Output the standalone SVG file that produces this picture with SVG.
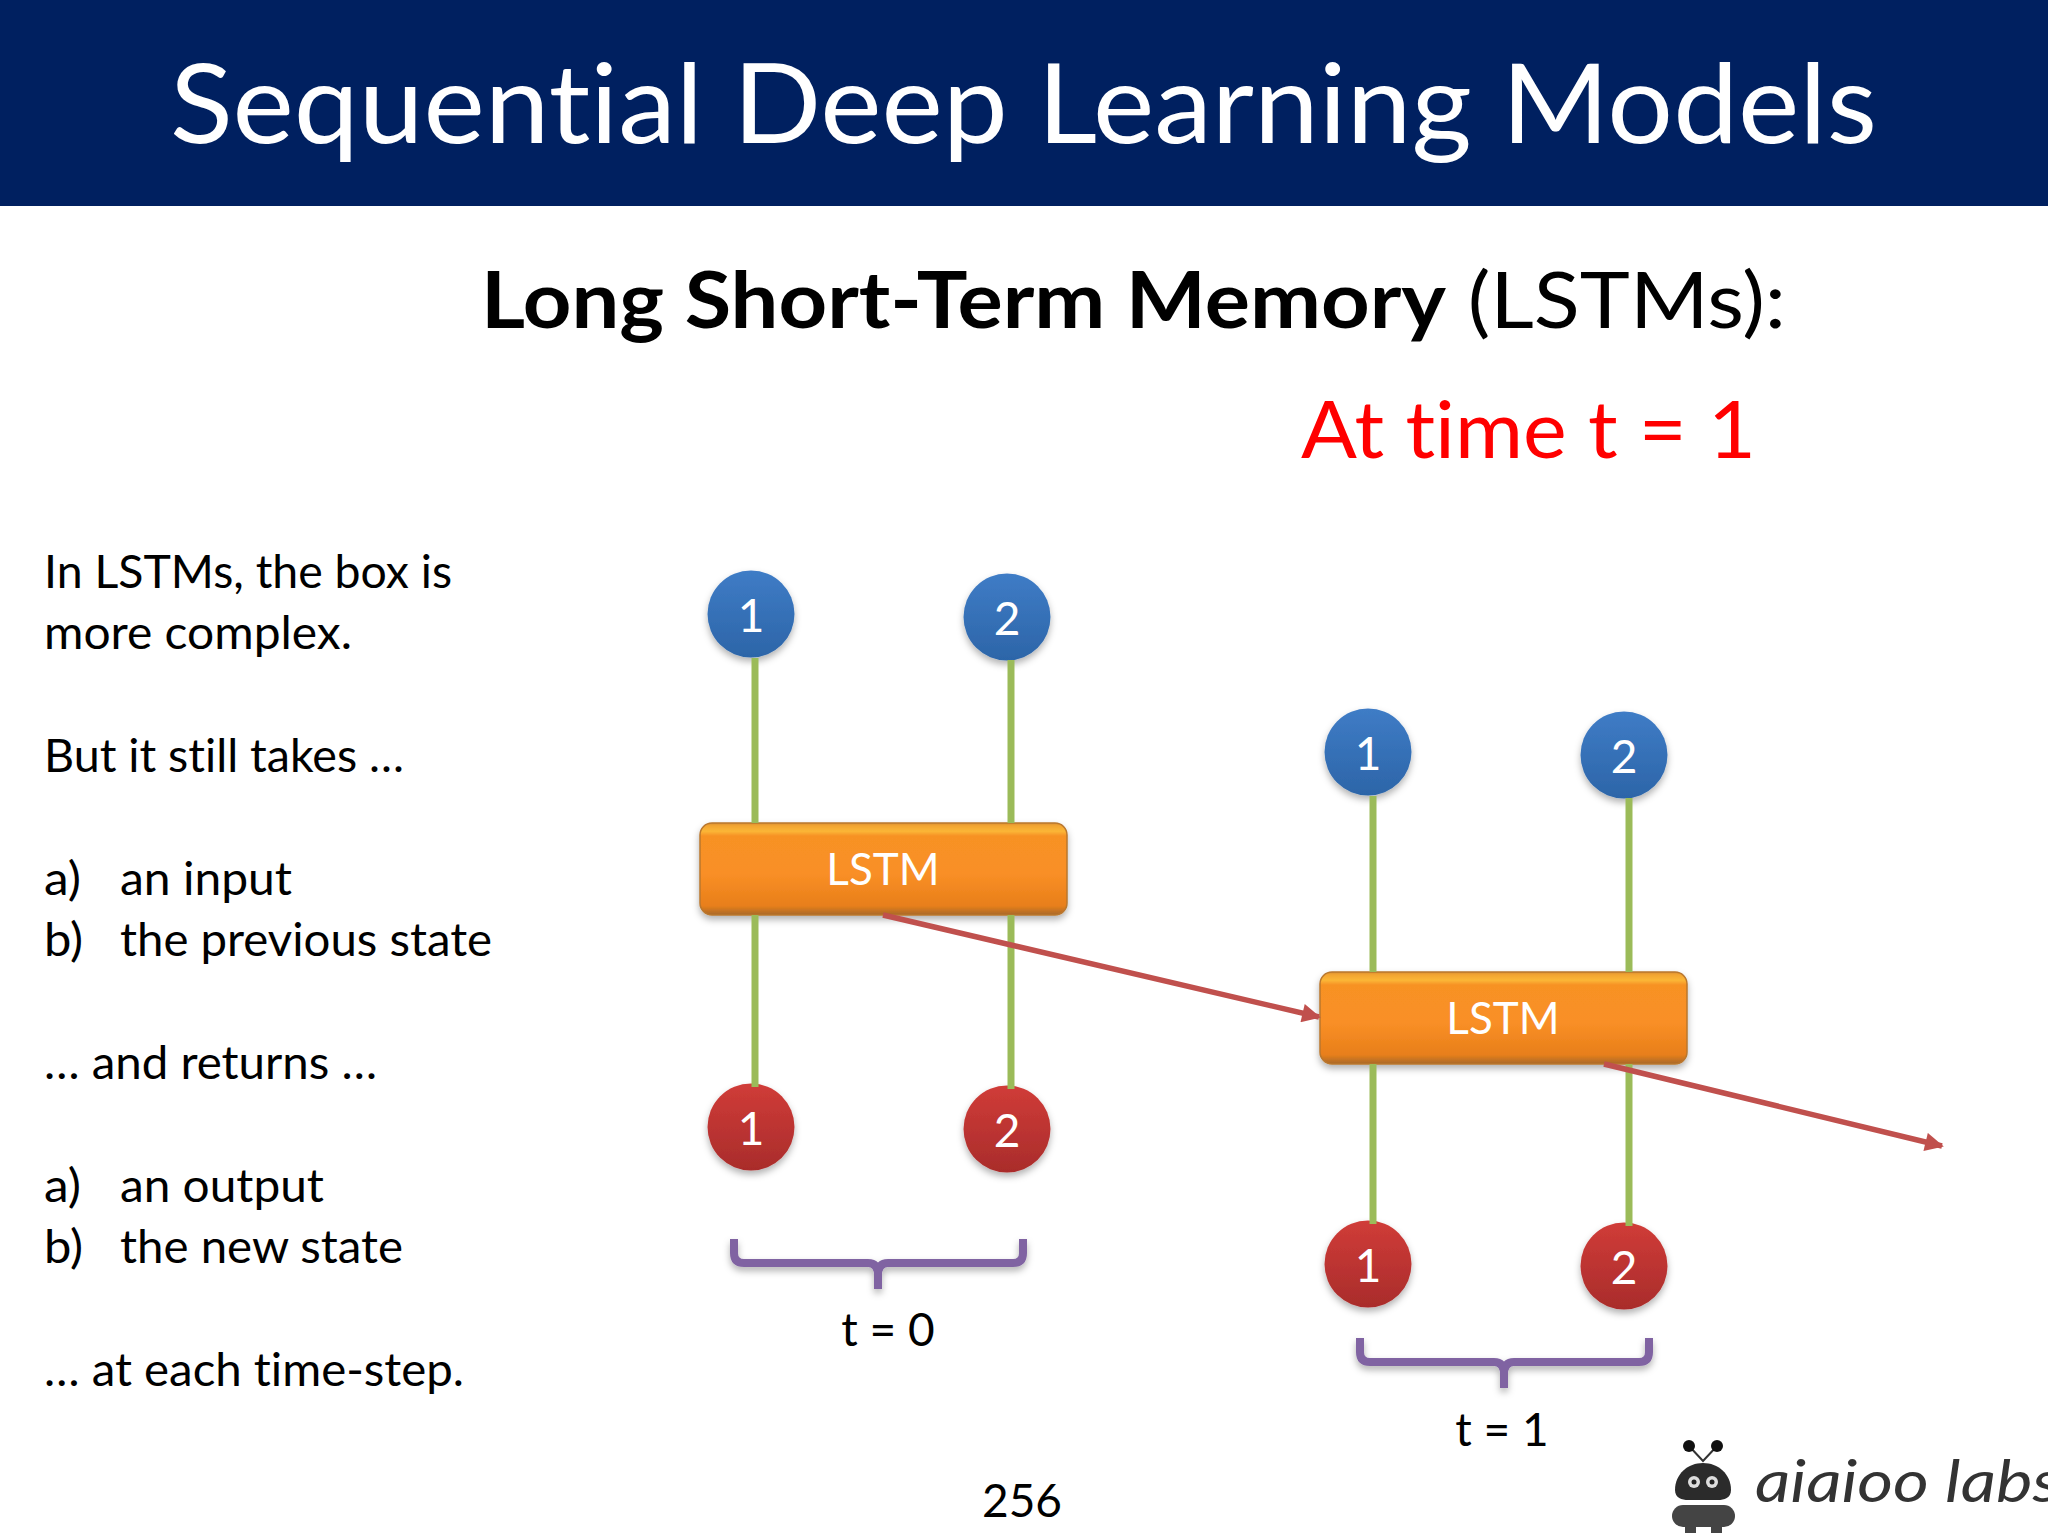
<svg xmlns="http://www.w3.org/2000/svg" width="2048" height="1536" viewBox="0 0 2048 1536">
<defs>
<linearGradient id="gBlue" x1="0" y1="0" x2="0" y2="1"><stop offset="0" stop-color="#3f7cc6"/><stop offset="1" stop-color="#2c65a8"/></linearGradient>
<linearGradient id="gRed" x1="0" y1="0" x2="0" y2="1"><stop offset="0" stop-color="#d03c38"/><stop offset="1" stop-color="#a92c2b"/></linearGradient>
<linearGradient id="gOrange" x1="0" y1="0" x2="0" y2="1"><stop offset="0" stop-color="#d9902f"/><stop offset="0.03" stop-color="#f2a431"/><stop offset="0.09" stop-color="#fbb637"/><stop offset="0.14" stop-color="#f79224"/><stop offset="0.55" stop-color="#f98f26"/><stop offset="0.9" stop-color="#e87f1a"/><stop offset="1" stop-color="#a8682a"/></linearGradient>
<filter id="sh" x="-30%" y="-30%" width="160%" height="170%"><feDropShadow dx="0" dy="4" stdDeviation="3.5" flood-color="#000" flood-opacity="0.3"/></filter>
<marker id="arr" viewBox="0 0 10 10" refX="9" refY="5" markerWidth="4.2" markerHeight="3.4" orient="auto"><path d="M0 0L10 5L0 10z" fill="#c0504d"/></marker>
<g id="brace"><path d="M0 0V14Q0 24 10 24H134Q144 24 144 36V50M144 36Q144 24 154 24H279Q289 24 289 14V0" fill="none" stroke="#8064a2" stroke-width="8" filter="url(#sh)"/></g>
</defs>
<style>
text{font-family:"Lato","Open Sans","Liberation Sans",sans-serif;font-variant-ligatures:none}
.body{font-size:46px;fill:#000}
.num{font-size:46px;fill:#fff;text-anchor:middle}
.lstm{font-size:44px;fill:#fff;text-anchor:middle}
.green{stroke:#9bbb59;stroke-width:7;fill:none}
.red{stroke:#c0504d;stroke-width:5.5;fill:none;marker-end:url(#arr)}
.box{fill:url(#gOrange);stroke:#b9772e;stroke-width:1.5;filter:url(#sh)}
.cb{fill:url(#gBlue);filter:url(#sh)}
.cr{fill:url(#gRed);filter:url(#sh)}
</style>
<rect width="2048" height="1536" fill="#fff"/>
<g id="header">
<rect width="2048" height="206" fill="#002060"/>
<text x="170" y="143" font-size="110" fill="#fff" textLength="1707" lengthAdjust="spacingAndGlyphs">Sequential Deep Learning Models</text>
</g>
<text id="subtitle" x="481" y="328" font-size="78" fill="#000" textLength="1305" lengthAdjust="spacingAndGlyphs"><tspan font-weight="700">Long Short-Term Memory</tspan> (LSTMs):</text>
<text id="time" x="1301" y="458" font-size="80" fill="#ff0000" textLength="455" lengthAdjust="spacingAndGlyphs">At time t = 1</text>
<g id="explanation">
<text class="body" x="44" y="588" textLength="408" lengthAdjust="spacingAndGlyphs">In LSTMs, the box is</text>
<text class="body" x="44" y="649" textLength="308" lengthAdjust="spacingAndGlyphs">more complex.</text>
<text class="body" x="44" y="772" textLength="360" lengthAdjust="spacingAndGlyphs">But it still takes …</text>
<text class="body" x="44" y="895" textLength="37" lengthAdjust="spacingAndGlyphs">a)</text><text class="body" x="120" y="895" textLength="172" lengthAdjust="spacingAndGlyphs">an input</text>
<text class="body" x="44" y="956" textLength="39" lengthAdjust="spacingAndGlyphs">b)</text><text class="body" x="120" y="956" textLength="372" lengthAdjust="spacingAndGlyphs">the previous state</text>
<text class="body" x="44" y="1079" textLength="333" lengthAdjust="spacingAndGlyphs">… and returns …</text>
<text class="body" x="44" y="1202" textLength="37" lengthAdjust="spacingAndGlyphs">a)</text><text class="body" x="120" y="1202" textLength="204" lengthAdjust="spacingAndGlyphs">an output</text>
<text class="body" x="44" y="1263" textLength="39" lengthAdjust="spacingAndGlyphs">b)</text><text class="body" x="120" y="1263" textLength="283" lengthAdjust="spacingAndGlyphs">the new state</text>
<text class="body" x="44" y="1386" textLength="420" lengthAdjust="spacingAndGlyphs">… at each time-step.</text>
</g>
<g id="in1t0"><circle class="cb" cx="751" cy="614" r="43.5"/><text class="num" x="751" y="632">1</text></g>
<g id="in2t0"><circle class="cb" cx="1007" cy="617" r="43.5"/><text class="num" x="1007" y="635">2</text></g>
<g id="lstm0"><rect class="box" x="700" y="823" width="367" height="92" rx="12"/><text class="lstm" x="883" y="885">LSTM</text></g>
<g id="out1t0"><circle class="cr" cx="751" cy="1127" r="43.5"/><text class="num" x="751" y="1145">1</text></g>
<g id="out2t0"><circle class="cr" cx="1007" cy="1129" r="43.5"/><text class="num" x="1007" y="1147">2</text></g>
<g id="in1t1"><circle class="cb" cx="1368" cy="752" r="43.5"/><text class="num" x="1368" y="770">1</text></g>
<g id="in2t1"><circle class="cb" cx="1624" cy="755" r="43.5"/><text class="num" x="1624" y="773">2</text></g>
<g id="lstm1"><rect class="box" x="1320" y="972" width="367" height="92" rx="12"/><text class="lstm" x="1503" y="1034">LSTM</text></g>
<g id="out1t1"><circle class="cr" cx="1368" cy="1264" r="43.5"/><text class="num" x="1368" y="1282">1</text></g>
<g id="out2t1"><circle class="cr" cx="1624" cy="1266" r="43.5"/><text class="num" x="1624" y="1284">2</text></g>
<g id="connectors">
<path class="green" d="M755 658V823M1011 660V823M755 915V1087M1011 915V1089"/>
<path class="green" d="M1373 796V972M1629 798V972M1373 1064V1224M1629 1064V1226"/>
<path class="red" d="M883 915L1319 1017"/>
<path class="red" d="M1604 1064L1942 1146"/>
</g>
<g id="brace0"><use href="#brace" x="734" y="1239"/><text class="body" x="888" y="1346" text-anchor="middle">t = 0</text></g>
<g id="brace1"><use href="#brace" x="1360" y="1338"/><text class="body" x="1502" y="1446" text-anchor="middle">t = 1</text></g>
<text id="page" class="body" x="1022" y="1517" text-anchor="middle">256</text>
<g id="logo">
<path d="M1689 1446L1703 1461L1717 1446" fill="none" stroke="#333" stroke-width="2"/>
<circle cx="1689" cy="1446" r="6" fill="#111"/><circle cx="1717" cy="1446" r="6" fill="#111"/>
<path d="M1675 1490C1675 1474 1688 1463 1703 1463C1718 1463 1731 1474 1731 1490C1731 1498 1724 1500 1718 1500H1688C1682 1500 1675 1498 1675 1490Z" fill="#2b2b2b"/>
<circle cx="1694" cy="1482" r="6" fill="#ddd"/><circle cx="1712" cy="1482" r="6" fill="#ddd"/>
<circle cx="1694" cy="1482" r="2.5" fill="#222"/><circle cx="1712" cy="1482" r="2.5" fill="#222"/>
<rect x="1672" y="1505" width="63" height="22" rx="11" fill="#444"/>
<rect x="1685" y="1525" width="11" height="8" fill="#444"/><rect x="1711" y="1525" width="11" height="8" fill="#444"/>
<text x="1755" y="1502" font-size="58" font-style="italic" font-weight="400" fill="#333" textLength="305" lengthAdjust="spacingAndGlyphs">aiaioo labs</text>
</g>
</svg>
